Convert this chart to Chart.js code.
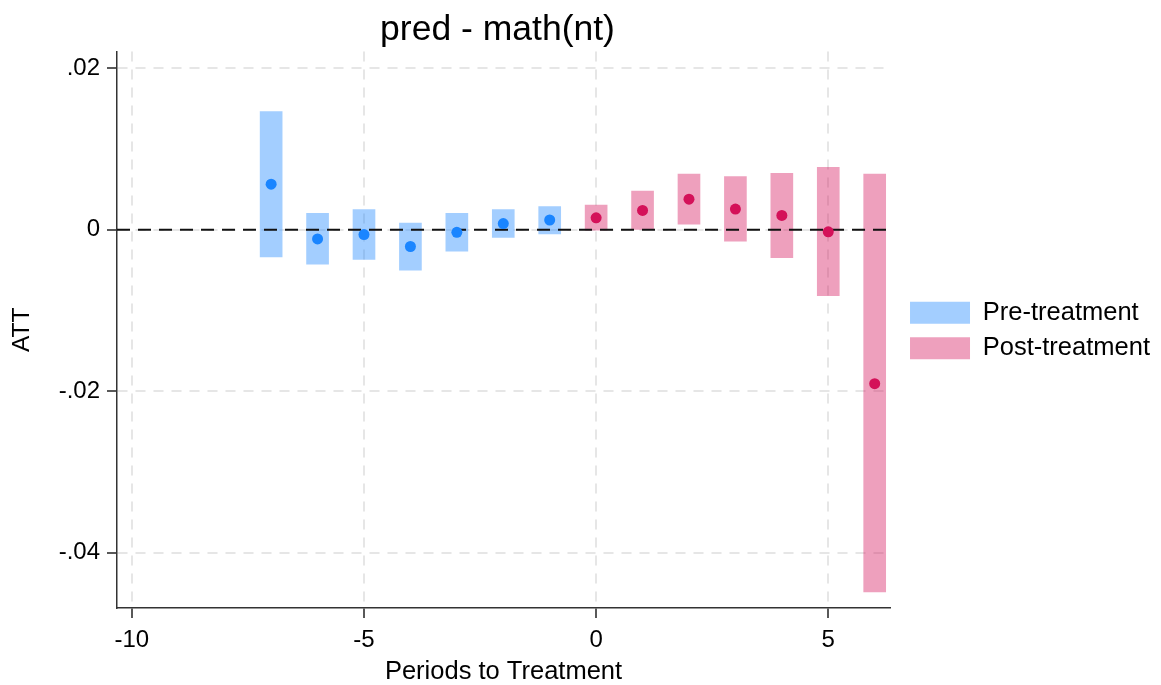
<!DOCTYPE html>
<html>
<head>
<meta charset="utf-8">
<script src="https://cdn.jsdelivr.net/npm/chart.js@4"></script>
<style>
  body { margin: 0; background: #fff; }
  canvas { display: block; }
</style>
</head>
<body>
<canvas id="attChart" width="1161" height="685"></canvas>
<script>
// periods to treatment, point estimates and confidence bands
const periodsPre = [-7, -6, -5, -4, -3, -2, -1];
const attPre = [0.00565, -0.00114, -0.00059, -0.00207, -0.00031, 0.00077, 0.00121];
const ciLowPre = [-0.00336, -0.00426, -0.00368, -0.00500, -0.00265, -0.00096, -0.00052];
const ciHighPre = [0.01463, 0.00204, 0.00249, 0.00084, 0.00204, 0.00249, 0.00286];

const periodsPost = [0, 1, 2, 3, 4, 5, 6];
const attPost = [0.00148, 0.00240, 0.00379, 0.00256, 0.00178, -0.00025, -0.01905];
const ciLowPost = [-0.00004, 0.00005, 0.00070, -0.00140, -0.00346, -0.00815, -0.04485];
const ciHighPost = [0.00305, 0.00478, 0.00691, 0.00659, 0.00700, 0.00774, 0.00691];

const xRange = [-10.32, 6.33];
const yRange = [-0.04683, 0.02206];
const xTickStep = 5;
const yTickStep = 0.02;

const blue = '#1A85FF';
const pink = '#D41159';
const blueBand = 'rgba(26, 133, 255, 0.4)';
const pinkBand = 'rgba(212, 17, 89, 0.4)';

const band = (xs, lo, hi) => xs.map((x, i) => ({ x: x, y: [lo[i], hi[i]] }));
const pts = (xs, ys) => xs.map((x, i) => ({ x: x, y: ys[i] }));

const stataFmt = v => {
  if (Math.abs(v) < 1e-9) return '0';
  return v.toFixed(2).replace('0.', '.');
};

const font = 'Liberation Sans, Arial, sans-serif';
const gridColor = '#e6e6e6';

// nudge legend and title to where the original has them
const nudge = {
  id: 'nudge',
  afterLayout(chart) {
    const lg = chart.legend;
    if (lg) {
      lg.left += 10; lg.right += 10;
      lg.top -= 12; lg.bottom -= 12;
    }
    const tb = chart.titleBlock;
    if (tb) { tb.left -= 6; tb.right -= 6; }
  }
};

const ctx = document.getElementById('attChart');
new Chart(ctx, {
  type: 'bar',
  data: {
    datasets: [{
      label: 'Pre-treatment',
      data: band(periodsPre, ciLowPre, ciHighPre),
      backgroundColor: blueBand,
      borderWidth: 0,
      barThickness: 22,
      grouped: false,
      order: 3
    }, {
      label: 'Post-treatment',
      data: band(periodsPost, ciLowPost, ciHighPost),
      backgroundColor: pinkBand,
      borderWidth: 0,
      barThickness: 22,
      grouped: false,
      order: 3
    }, {
      type: 'line',
      label: 'zero',
      data: [{ x: xRange[0], y: 0 }, { x: xRange[1], y: 0 }],
      borderColor: '#111',
      borderWidth: 2.2,
      borderDash: [13, 8],
      pointRadius: 0,
      fill: false,
      order: 2
    }, {
      type: 'scatter',
      label: 'att pre',
      data: pts(periodsPre, attPre),
      backgroundColor: blue,
      borderWidth: 0,
      pointRadius: 5.5,
      order: 1
    }, {
      type: 'scatter',
      label: 'att post',
      data: pts(periodsPost, attPost),
      backgroundColor: pink,
      borderWidth: 0,
      pointRadius: 5.5,
      order: 1
    }]
  },
  options: {
    responsive: false,
    animation: false,
    devicePixelRatio: 1,
    layout: { padding: { left: 4, right: 11, top: 0, bottom: 0 } },
    scales: {
      x: {
        type: 'linear',
        min: xRange[0],
        max: xRange[1],
        offset: false,
        afterFit: s => { s.height = 77; },
        ticks: {
          stepSize: xTickStep,
          includeBounds: false,
          color: '#000',
          padding: 8,
          maxRotation: 0,
          font: { family: font, size: 24 }
        },
        grid: {
          offset: false,
          color: gridColor,
          lineWidth: 2,
          tickLength: 10,
          tickColor: '#222',
          tickWidth: 1.5
        },
        border: { color: '#333', width: 1.5, dash: [10, 8] },
        title: {
          display: true,
          text: 'Periods to Treatment',
          color: '#000',
          padding: { top: 0, bottom: -2 },
          font: { family: font, size: 25.5 }
        }
      },
      y: {
        type: 'linear',
        min: yRange[0],
        max: yRange[1],
        afterFit: s => { s.width = 113; },
        ticks: {
          stepSize: yTickStep,
          includeBounds: false,
          color: '#000',
          padding: 7,
          callback: v => stataFmt(v),
          font: { family: font, size: 24 }
        },
        grid: {
          color: gridColor,
          lineWidth: 2,
          tickLength: 10,
          tickColor: '#222',
          tickWidth: 1.5
        },
        border: { color: '#333', width: 1.5, dash: [10, 8] },
        title: {
          display: true,
          text: 'ATT',
          color: '#000',
          padding: { top: 4, bottom: 0 },
          font: { family: font, size: 24.5 }
        }
      }
    },
    plugins: {
      legend: {
        position: 'right',
        labels: {
          boxWidth: 60,
          boxHeight: 22,
          padding: 10,
          color: '#000',
          font: { family: font, size: 25.5 },
          filter: item => item.datasetIndex < 2
        }
      },
      title: {
        display: true,
        fullSize: false,
        text: 'pred - math(nt)',
        color: '#000',
        padding: { top: 9, bottom: 0 },
        font: { family: font, size: 35.5, weight: 'normal' }
      },
      tooltip: { enabled: false }
    }
  },
  plugins: [nudge]
});
</script>
</body>
</html>
